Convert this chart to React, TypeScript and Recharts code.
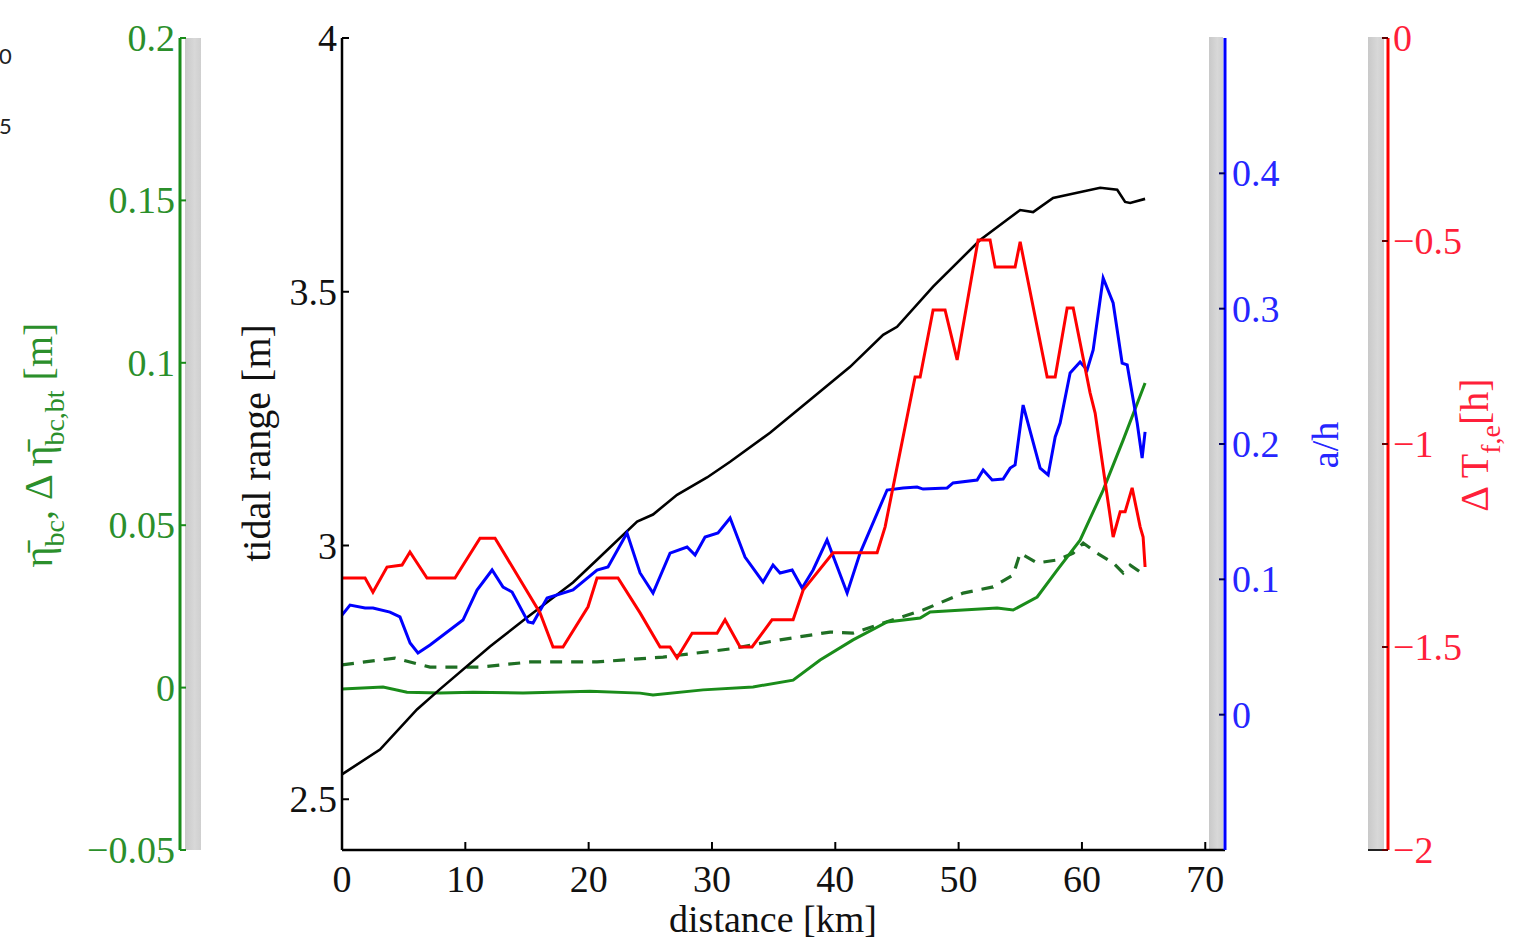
import React from 'react';
import { LineChart, Line, XAxis, YAxis } from 'recharts';

const FONT = '"Liberation Serif", "Times New Roman", Times, serif';

const GREEN = '#1a8c1a';
const GREEN_DASH = '#1f6f24';
const GREEN_TEXT = '#2b8f2b';
const BLUE = '#0000ff';
const BLUE_TEXT = '#2626ff';
const RED = '#ff0000';
const RED_TEXT = '#ff1f3a';

// Tidal range [m] along the estuary (distance in km)
const rangeKm = [0, 3.08, 6.08, 7.95, 12.0, 15.0, 18.73, 20.68, 23.93, 25.22, 27.17, 29.6, 31.47, 34.71, 37.96, 41.2, 43.88, 45.01, 47.93, 51.74, 53.93, 54.99, 56.04, 57.66, 59.61, 61.48, 62.86, 63.5, 63.91, 65.12];
const tidalRange = [2.549, 2.598, 2.677, 2.717, 2.801, 2.858, 2.927, 2.972, 3.047, 3.061, 3.1, 3.134, 3.165, 3.222, 3.287, 3.352, 3.415, 3.431, 3.51, 3.602, 3.642, 3.661, 3.657, 3.685, 3.695, 3.705, 3.701, 3.677, 3.675, 3.683];

// Baroclinic set-up (solid) [m]
const etaKm = [0, 3.33, 5.27, 7.95, 10.62, 14.68, 20.11, 24.17, 25.22, 29.28, 33.33, 36.58, 38.77, 41.44, 44.2, 46.88, 47.69, 50.36, 53.12, 54.42, 56.37, 57.99, 59.85, 61.72, 63.34, 65.12];
const etaBc = [-0.0004, 0.0002, -0.0014, -0.0017, -0.0014, -0.0017, -0.0011, -0.0017, -0.0023, -0.0007, 0.0002, 0.0023, 0.0085, 0.0147, 0.0202, 0.0214, 0.0233, 0.0239, 0.0245, 0.0239, 0.0279, 0.0362, 0.0454, 0.0608, 0.0762, 0.0938];

// Difference between baroclinic and barotropic set-up (dashed) [m]
const dEtaKm = [0, 4.3, 7.14, 11.19, 15.25, 20.68, 26.03, 31.47, 35.52, 39.58, 41.44, 47.12, 50.36, 52.8, 54.42, 54.99, 56.37, 57.99, 59.29, 60.1, 61.23, 62.53, 63.34, 63.91, 64.72, 65.12];
const dEtaBcBt = [0.007, 0.0091, 0.0063, 0.0063, 0.0079, 0.0079, 0.0094, 0.0119, 0.0147, 0.0171, 0.0168, 0.0239, 0.0291, 0.031, 0.0347, 0.0414, 0.0384, 0.0393, 0.0414, 0.0445, 0.0414, 0.0384, 0.0353, 0.0377, 0.0356, 0.0356];

// Tidal amplitude to depth ratio a/h
const ahKm = [0, 0.65, 1.87, 2.51, 3.89, 4.7, 5.52, 6.16, 7.14, 9.81, 10.95, 12.17, 13.06, 13.79, 15.09, 15.49, 16.63, 18.73, 20.68, 21.57, 23.11, 24.17, 25.22, 26.6, 27.98, 28.63, 29.44, 30.49, 31.47, 32.68, 34.14, 34.95, 35.52, 36.5, 37.31, 38.2, 39.33, 40.96, 42.01, 44.2, 45.5, 46.63, 47.12, 49.07, 49.55, 51.5, 51.99, 52.72, 53.61, 54.18, 54.58, 55.23, 56.61, 57.26, 57.83, 58.23, 59.04, 59.85, 60.42, 60.91, 61.72, 62.53, 63.26, 63.67, 64.48, 64.88, 65.12];
const aOverH = [0.0736, 0.081, 0.0788, 0.0788, 0.0758, 0.0722, 0.053, 0.0456, 0.0515, 0.0699, 0.0921, 0.1069, 0.0943, 0.0906, 0.0685, 0.0677, 0.0862, 0.0921, 0.1069, 0.1091, 0.1342, 0.1047, 0.0899, 0.1194, 0.1239, 0.118, 0.1313, 0.1342, 0.1453, 0.1165, 0.098, 0.1106, 0.1047, 0.1069, 0.0936, 0.1069, 0.1291, 0.0899, 0.1194, 0.166, 0.1675, 0.1682, 0.1667, 0.1675, 0.1712, 0.1734, 0.1808, 0.1734, 0.1741, 0.1822, 0.1845, 0.2288, 0.1822, 0.1771, 0.2052, 0.2155, 0.2525, 0.2606, 0.2547, 0.2695, 0.3227, 0.3042, 0.2598, 0.2584, 0.2155, 0.1896, 0.2089];

// Flood-ebb duration difference [h]
const dtKm = [0, 1.87, 2.51, 3.65, 4.87, 5.51, 6.89, 9.16, 11.19, 12.41, 16.06, 17.11, 17.92, 19.95, 20.68, 22.38, 24.17, 25.79, 26.6, 27.17, 28.39, 30.41, 31.06, 32.28, 33.25, 34.87, 36.58, 37.39, 39.82, 43.39, 44.04, 46.47, 46.88, 47.93, 48.9, 49.88, 51.58, 52.55, 52.96, 54.58, 54.99, 57.18, 57.83, 58.8, 59.29, 60.66, 61.07, 62.53, 63.1, 63.5, 64.07, 64.72, 64.96, 65.12];
const dTfe = [-1.33, -1.33, -1.365, -1.303, -1.298, -1.266, -1.33, -1.33, -1.232, -1.232, -1.416, -1.5, -1.5, -1.401, -1.33, -1.33, -1.416, -1.5, -1.5, -1.527, -1.466, -1.466, -1.433, -1.5, -1.5, -1.433, -1.433, -1.36, -1.268, -1.268, -1.204, -0.835, -0.835, -0.67, -0.67, -0.793, -0.4975, -0.4975, -0.564, -0.564, -0.502, -0.835, -0.835, -0.665, -0.665, -0.874, -0.924, -1.229, -1.167, -1.167, -1.108, -1.204, -1.229, -1.303];

const distanceTicks = [0, 10, 20, 30, 40, 50, 60, 70];
const rangeTicks = [2.5, 3, 3.5, 4];
const etaTicks = [-0.05, 0, 0.05, 0.1, 0.15, 0.2];
const ahTicks = [0, 0.1, 0.2, 0.3, 0.4];
const dtTicks = [-2, -1.5, -1, -0.5, 0];

const zip = (xs: number[], ys: number[]) => xs.map((x, i) => ({ x, v: ys[i] }));

const rangeData = zip(rangeKm, tidalRange);
const etaData = zip(etaKm, etaBc);
const dEtaData = zip(dEtaKm, dEtaBcBt);
const ahData = zip(ahKm, aOverH);
const dtData = zip(dtKm, dTfe);

const fmt = (v: number) => (v < 0 ? '\u2212' + String(-v) : String(v));

// Ticks point into the axes box, labels sit outside
function tickRenderer(side: 'left' | 'right' | 'bottom', textColor: string, markColor: string, len: number, gap: number) {
  return (p: any) => {
    const x = Number(p.x);
    const y = Number(p.y);
    const label = fmt(p.payload.value);
    if (side === 'bottom') {
      return (
        <g>
          <line x1={x} y1={y} x2={x} y2={y - len} stroke={markColor} strokeWidth={2} />
          <text x={x} y={y + 42} textAnchor="middle" fill={textColor} fontSize={38} fontFamily={FONT}>
            {label}
          </text>
        </g>
      );
    }
    const dir = side === 'left' ? 1 : -1;
    return (
      <g>
        <line x1={x} y1={y} x2={x + dir * len} y2={y} stroke={markColor} strokeWidth={2} />
        <text
          x={x - dir * gap}
          y={y + 13}
          textAnchor={side === 'left' ? 'end' : 'start'}
          fill={textColor}
          fontSize={38}
          fontFamily={FONT}
        >
          {label}
        </text>
      </g>
    );
  };
}

const strip = (left: number, top: number, width: number, height: number): React.CSSProperties => ({
  position: 'absolute',
  left,
  top,
  width,
  height,
  background: 'linear-gradient(to right, #c9c9c9, #d8d8d8 60%, #cfcfcf)',
});

export default function App() {
  return (
    <div style={{ position: 'absolute', left: 0, top: 0, width: 1522, height: 941, background: '#fff' }}>
      <div style={strip(185, 38, 16, 812)} />
      <div style={strip(1209, 37, 14, 813)} />
      <div style={strip(1368, 37, 16, 813)} />
      <div style={{ position: 'absolute', left: 1368, top: 849, width: 19, height: 2, background: '#222' }} />

      <div style={{ position: 'absolute', left: -1, top: 44, fontFamily: 'Lato, sans-serif', fontSize: 22, lineHeight: '24px', color: '#222' }}>0</div>
      <div style={{ position: 'absolute', left: -1, top: 114, fontFamily: 'Lato, sans-serif', fontSize: 22, lineHeight: '24px', color: '#222' }}>5</div>

      <LineChart
        width={1522}
        height={941}
        margin={{ top: 38, right: 0, bottom: 0, left: 0 }}
        style={{ position: 'absolute', left: 0, top: 0 }}
      >
        <XAxis
          dataKey="x"
          type="number"
          domain={[0, 71.6]}
          ticks={distanceTicks}
          interval={0}
          allowDataOverflow
          height={91}
          tickSize={0}
          tickMargin={0}
          tickLine={false}
          axisLine={{ stroke: '#000', strokeWidth: 2.5 }}
          tick={tickRenderer('bottom', '#111', '#000', 8, 0)}
        />
        <YAxis
          yAxisId="l2eta"
          orientation="left"
          width={180}
          domain={[-0.05, 0.2]}
          ticks={etaTicks}
          interval={0}
          allowDataOverflow
          tickSize={0}
          tickMargin={0}
          tickLine={false}
          axisLine={{ stroke: GREEN, strokeWidth: 3 }}
          tick={tickRenderer('left', GREEN_TEXT, GREEN, 6, 5)}
        />
        <YAxis
          yAxisId="l1range"
          orientation="left"
          width={162}
          domain={[2.4, 4]}
          ticks={rangeTicks}
          interval={0}
          allowDataOverflow
          tickSize={0}
          tickMargin={0}
          tickLine={false}
          axisLine={{ stroke: '#000', strokeWidth: 2.5 }}
          tick={tickRenderer('left', '#111', '#000', 7, 5)}
        />
        <YAxis
          yAxisId="ah"
          orientation="right"
          width={163}
          domain={[-0.1, 0.5]}
          ticks={ahTicks}
          interval={0}
          allowDataOverflow
          tickSize={0}
          tickMargin={0}
          tickLine={false}
          axisLine={{ stroke: BLUE, strokeWidth: 3 }}
          tick={tickRenderer('right', BLUE_TEXT, '#000060', 6, 7)}
        />
        <YAxis
          yAxisId="dt"
          orientation="right"
          width={134}
          domain={[-2, 0]}
          ticks={dtTicks}
          interval={0}
          allowDataOverflow
          tickSize={0}
          tickMargin={0}
          tickLine={false}
          axisLine={{ stroke: RED, strokeWidth: 3 }}
          tick={tickRenderer('right', RED_TEXT, '#600000', 6, 5)}
        />

        <Line yAxisId="l2eta" data={dEtaData} dataKey="v" type="linear" stroke={GREEN_DASH} strokeWidth={3.2} strokeDasharray="12 9" dot={false} isAnimationActive={false} />
        <Line yAxisId="l2eta" data={etaData} dataKey="v" type="linear" stroke={GREEN} strokeWidth={3} dot={false} isAnimationActive={false} />
        <Line yAxisId="l1range" data={rangeData} dataKey="v" type="linear" stroke="#000" strokeWidth={2.6} dot={false} isAnimationActive={false} />
        <Line yAxisId="ah" data={ahData} dataKey="v" type="linear" stroke={BLUE} strokeWidth={3} dot={false} isAnimationActive={false} />
        <Line yAxisId="dt" data={dtData} dataKey="v" type="linear" stroke={RED} strokeWidth={3} dot={false} isAnimationActive={false} />
      </LineChart>

      <svg width={1522} height={941} style={{ position: 'absolute', left: 0, top: 0, pointerEvents: 'none' }} fontFamily={FONT}>
        <text x={773} y={932} textAnchor="middle" fontSize={38} fill="#111">distance [km]</text>
        <text x={270} y={443} transform="rotate(-90 270 443)" textAnchor="middle" fontSize={40} fill="#111">tidal range [m]</text>
        <text x={52} y={445} transform="rotate(-90 52 445)" textAnchor="middle" fontSize={40} fill={GREEN_TEXT}>
          <tspan>{'\u03b7\u0304'}</tspan>
          <tspan dy={12} fontSize={28}>bc</tspan>
          <tspan dy={-12}>{', \u0394 \u03b7\u0304'}</tspan>
          <tspan dy={12} fontSize={28}>bc,bt</tspan>
          <tspan dy={-12}>{' [m]'}</tspan>
        </text>
        <text x={1338} y={445} transform="rotate(-90 1338 445)" textAnchor="middle" fontSize={38} fill={BLUE_TEXT}>a/h</text>
        <text x={1488} y={445} transform="rotate(-90 1488 445)" textAnchor="middle" fontSize={40} fill={RED_TEXT}>
          <tspan>{'\u0394 T'}</tspan>
          <tspan dy={12} fontSize={28}>f,e</tspan>
          <tspan dy={-12}>[h]</tspan>
        </text>
      </svg>
    </div>
  );
}
